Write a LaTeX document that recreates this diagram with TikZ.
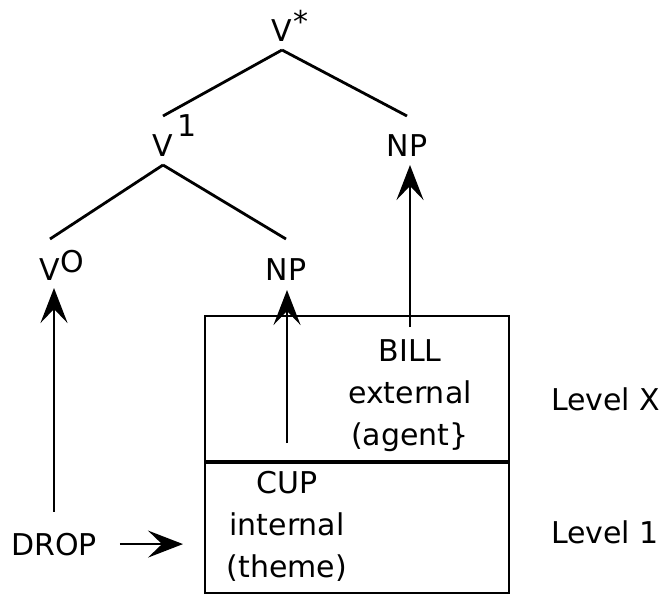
\documentclass[tikz,border=0pt]{standalone}
\usepackage{fontspec}
\setmainfont{DejaVu Sans}
\usetikzlibrary{arrows.meta}

\begin{document}
\begin{tikzpicture}[x=1pt,y=-1pt,line width=2.8pt]
  \tikzstyle{every node}=[font=\fontsize{30}{42}\selectfont,inner sep=0pt,outer sep=0pt]
  \tikzstyle{cat}=[anchor=base,text height=41pt,text depth=8pt]
  \tikzstyle{level}=[draw,line width=2.3pt,minimum width=304pt]
  \tikzstyle{link}=[-{Stealth[length=35pt,width=27pt,inset=14pt]}]
  \useasboundingbox (0,0) rectangle (661,596);

  % tree
  \node[cat] (vstar)   at (282,42)  {V\rlap{\kern1pt\raisebox{9pt}{*}}};
  \node[cat] (vone)    at (163,157) {V\rlap{\kern4pt\raisebox{20pt}{1}}};
  \node[cat] (npright) at (407,157) {NP};
  \node[cat] (vzero)   at (50,280)  {V\rlap{\raisebox{8pt}{O}}};
  \node[cat] (npmid)   at (286,280) {NP};

  \draw (vstar.south) -- (vone.north)
        (vstar.south) -- (npright.north)
        (vone.south) -- (vzero.north)
        (vone.south) -- (npmid.north);

  % levels
  \node[level,minimum height=146pt] (lvlx)   at (357,389)   {};
  \node[level,minimum height=131pt] (lvlone) at (357,527.5) {};
  \draw[line width=4.5pt] (lvlx.south west) -- (lvlx.south east);

  \node[anchor=north,align=center] (bill) at (410,340) {BILL\\external\\(agent\}};
  \node[anchor=north,align=center] (cup)  at (287,471) {CUP\\internal\\(theme)};
  \node[anchor=base] (drop) at (54,555) {DROP};
  \node[anchor=base west] (lvlxlab)   at (551,410) {Level X};
  \node[anchor=base west] (lvlonelab) at (551,543) {Level 1};

  \draw[link,shorten <=21pt] (drop.north) -- (drop.north |- vzero.south);
  \draw[link,shorten <=23pt,shorten >=22pt] (drop.east) -- (drop.east -| lvlone.west);
  \draw[link,shorten <=28pt,shorten >=2pt] (cup.north) -- (cup.north |- npmid.south);
  \draw[link,shorten <=13pt] (bill.north) -- (bill.north |- npright.south);
\end{tikzpicture}
\end{document}
